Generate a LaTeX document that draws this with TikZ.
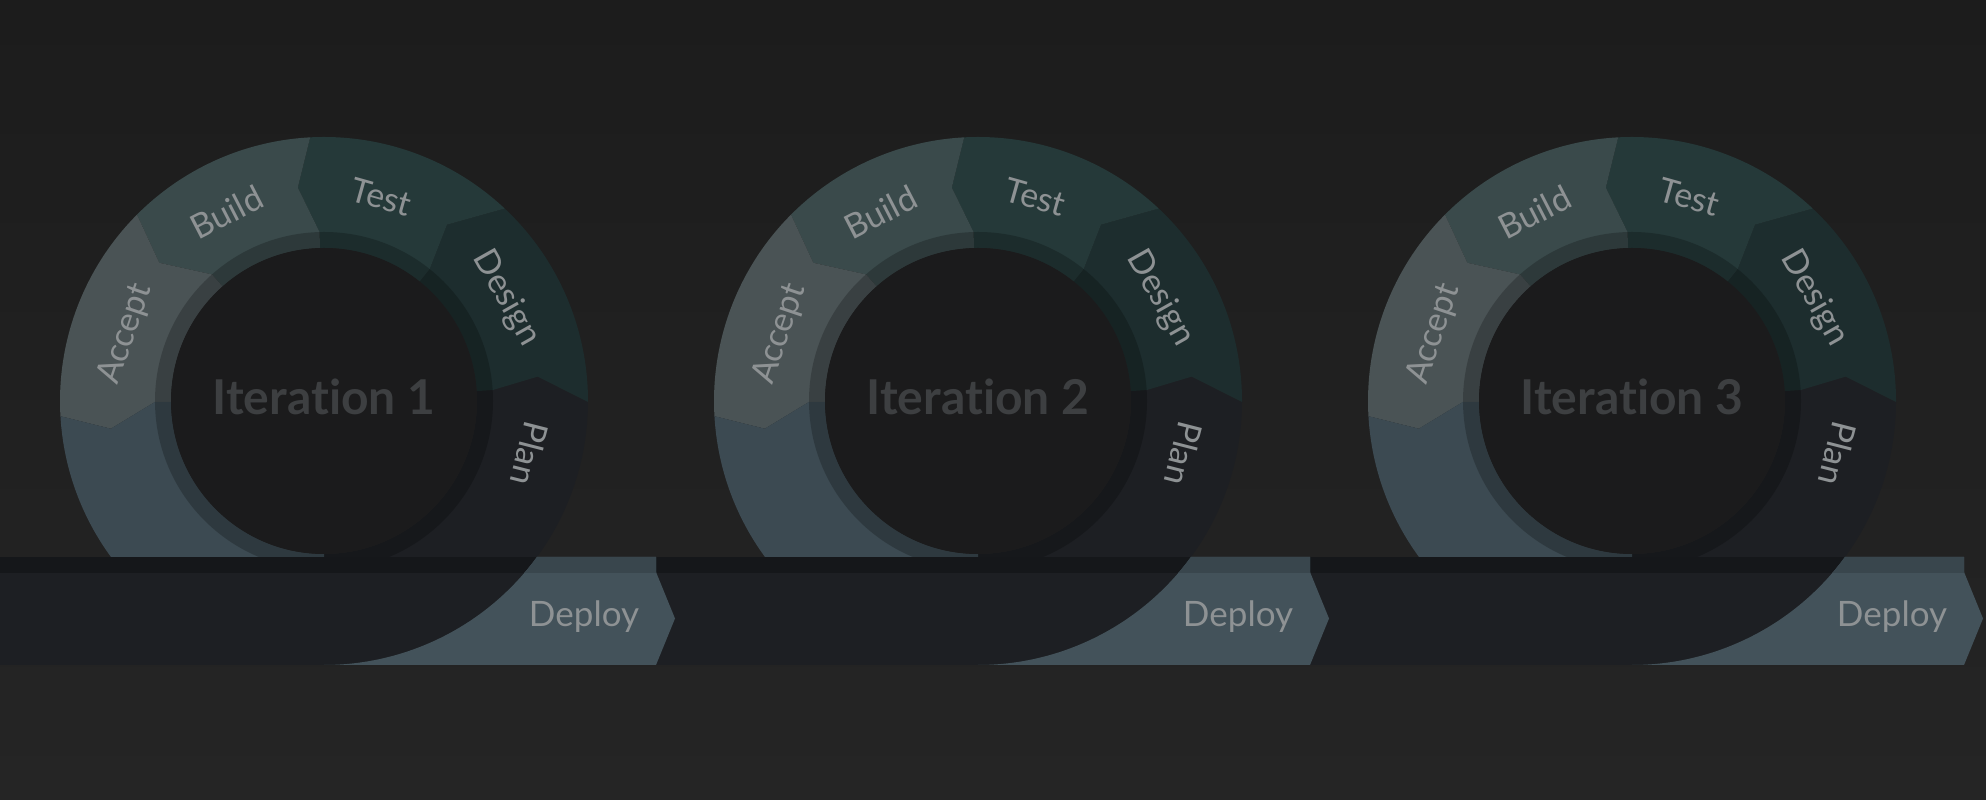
\documentclass[tikz,border=0pt]{standalone}
\usepackage{fontspec}
\setmainfont{Lato}[Ligatures=NoCommon]
\definecolor{bgtop}{HTML}{1C1C1C}
\definecolor{bgbot}{HTML}{252525}
\definecolor{plan}{HTML}{1D1F23}
\definecolor{design}{HTML}{1D2D2E}
\definecolor{test}{HTML}{253939}
\definecolor{build}{HTML}{3A4A4B}
\definecolor{accept}{HTML}{4A5355}
\definecolor{lowseg}{HTML}{3C4A52}
\definecolor{deploy}{HTML}{43525A}
\definecolor{deploytop}{HTML}{39464D}
\definecolor{strip}{HTML}{15171A}
\definecolor{hole}{HTML}{1B1B1C}
\definecolor{labc}{HTML}{8E9294}
\definecolor{itc}{HTML}{3D3F41}
% segment: o1 t1 i1 o2 t2 i2 colour
\newcommand\ringseg[7]{%
  \fill[#7] (#1:264pt) arc[start angle=#1, end angle=#4, radius=264pt]
    -- (#5:215pt) -- (#6:169pt) -- (#6:153pt)
    arc[start angle=#6, end angle=#3, radius=153pt]
    -- (#3:169pt) -- (#2:215pt) -- cycle;}
\newcommand\lab[3]{% angle, name, text
  \node[ringlab, rotate={#1-90}] (#2) at (#1:200pt) {#3};}
\newcommand\deploypath{%
  (-90:264pt) -- (332,-264) -- (351,-217.5) -- (332,-171) -- (332,-156)
  -- ({-asin(156/264)}:264pt)
  arc[start angle={-asin(156/264)}, end angle=-90, radius=264pt] -- cycle}
\tikzset{
  ringlab/.style={anchor=base, inner sep=0pt, font=\fontsize{34}{34}\selectfont, text=labc},
  deplab/.style={anchor=base, inner sep=0pt, font=\fontsize{35}{35}\selectfont, text=labc},
  itlab/.style={anchor=base, inner sep=0pt, font=\fontsize{48}{48}\selectfont\bfseries, text=itc}
}
\begin{document}
\begin{tikzpicture}[x=1pt,y=1pt]
\useasboundingbox (0,0) rectangle (1986,800);
\shade[top color=bgtop, bottom color=bgbot] (0,0) rectangle (1986,800);
% floor band
\fill[plan] (0,135) rectangle (1964,243);
\fill[strip] (0,227) rectangle (1964,243);
\foreach \cx/\n in {324/1,978/2,1632/3}{
\begin{scope}[shift={(\cx,399)}]
  \begin{scope}
    \clip (-280,-156) rectangle (280,280);
    \ringseg{-90}{-90}{-90}{-0.2}{6.5}{3.7}{plan}
    \ringseg{-0.2}{6.5}{3.7}{46.8}{55.1}{51.3}{design}
    \ringseg{46.8}{55.1}{51.3}{93}{97}{91.5}{test}
    \ringseg{93}{97}{91.5}{135.1}{140}{131.5}{build}
    \ringseg{135.1}{140}{131.5}{183.3}{187.4}{180.3}{accept}
    \ringseg{183.3}{187.4}{180.3}{270}{270}{270}{lowseg}
    \fill[black,opacity=.22,even odd rule] (0,0) circle[radius=169pt] (0,0) circle[radius=153pt];
    \fill[hole] (0,0) circle[radius=153pt];
  \end{scope}
  \fill[deploy] \deploypath;
  \begin{scope}
    \clip (-300,-172) rectangle (400,-156);
    \fill[deploytop] \deploypath;
  \end{scope}
  \lab{74.3}{test\n}{Test}
  \lab{117.3}{build\n}{Build}
  \lab{161.3}{accept\n}{Accept}
  \lab{29.4}{design\n}{Design}
  \lab{-14.3}{plan\n}{Plan}
  \node[deplab] (dep\n) at (260,-226) {Deploy};
  \node[itlab] (it\n) at (0,-14) {Iteration \n};
\end{scope}
}
\end{tikzpicture}
\end{document}
